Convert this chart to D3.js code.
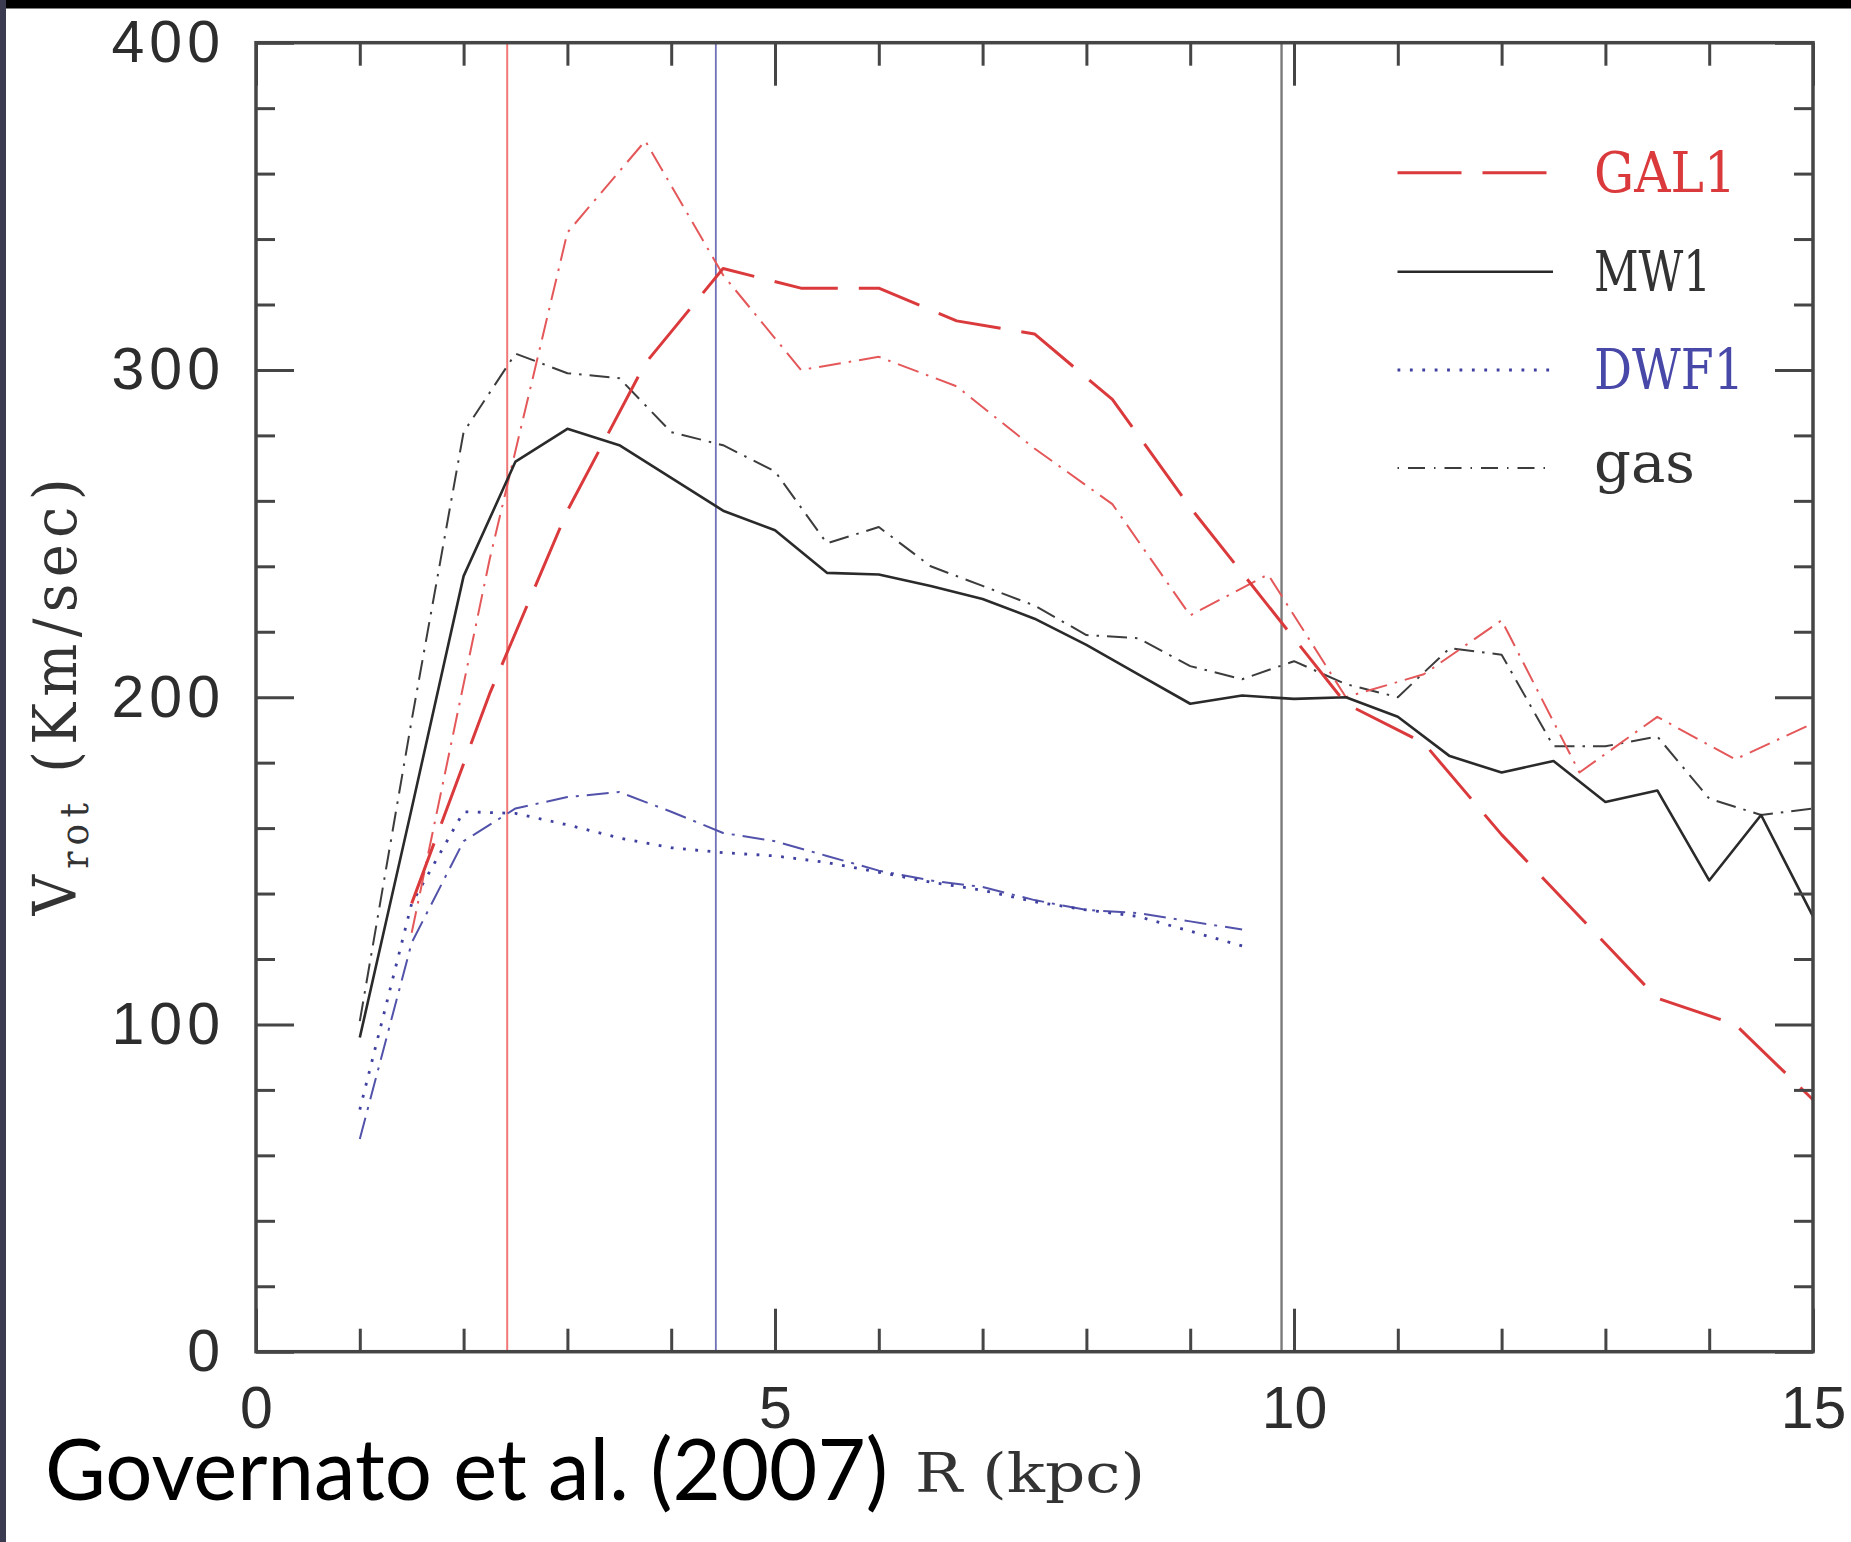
<!DOCTYPE html>
<html>
<head>
<meta charset="utf-8">
<script src="https://cdn.jsdelivr.net/npm/d3@7"></script>
<style>
  html, body { margin: 0; padding: 0; background: #ffffff; }
  svg { display: block; }
</style>
</head>
<body>
<svg id="chart" width="1851" height="1542"></svg>
<script>
// ---- data: rotation curves, V_rot (km/s) against R (kpc) ----
const radiiHalf = [1, 1.5, 2, 2.5, 3, 3.5, 4, 4.5, 5, 5.5, 6, 6.5, 7, 7.5, 8, 8.5, 9, 9.5,
                   10, 10.5, 11, 11.5, 12, 12.5, 13, 13.5, 14, 14.5, 15];
const radiiGal = [1.5, 2.25, 3, 3.75, 4.5, 5.25, 6, 6.75, 7.5, 8.25, 9, 9.75,
                  10.5, 11.25, 12, 12.75, 13.5, 14.25, 15];
const radiiDwarf = [1, 1.5, 2, 2.5, 3, 3.5, 4, 4.5, 5, 5.5, 6, 6.5, 7, 7.5, 8, 8.5, 9, 9.5];

const vMW1 = [96, 166, 237, 272, 282, 277, 267, 257, 251, 238, 237.5, 234, 230, 224, 216, 207, 198, 200.5,
              199.5, 200, 194, 182, 177, 180.5, 168, 171.5, 144, 164, 133];
const vMW1gas = [101, 193, 281, 305, 299, 297.5, 281, 277, 269, 247, 252, 240, 234, 228, 219, 218, 209.5, 205.5,
                 211, 204, 200, 215, 213, 185, 185, 188, 169, 164, 166];
const vGAL1 = [137, 201, 257, 302, 331, 325, 325, 315, 311, 291, 258, 228,
               198, 186, 158, 133, 108, 100, 77];
const vGAL1gas = [128, 242, 342, 370, 329, 300, 304, 295, 276, 259, 225, 237.5,
                  200, 207, 223.5, 177, 194, 181, 192];
const vDWF1 = [74, 137, 165, 164.5, 161, 157, 154, 152.5, 151.5, 149.5, 146.5, 143.5, 141, 137.5, 135, 133, 128.5, 124];
const vDWF1gas = [65, 125, 156, 166, 169.5, 171, 165, 158.5, 156, 151.5, 147, 144, 142, 138, 135, 134, 131.5, 129];

// radii of the three vertical reference lines
const markerRadii = [2.42, 4.43, 9.88];

const xTickValues = [0, 5, 10, 15];
const xMinorValues = [1, 2, 3, 4, 6, 7, 8, 9, 11, 12, 13, 14];
const yTickValues = [0, 100, 200, 300, 400];
const yMinorValues = [20, 40, 60, 80, 120, 140, 160, 180, 220, 240, 260, 280, 320, 340, 360, 380];

const legendLabels = ["GAL1", "MW1", "DWF1", "gas"];

// ---- layout ----
const svg = d3.select("#chart");
const W = 1851, H = 1542;
const plot = { left: 256, right: 1813, top: 42.7, bottom: 1351.7 };

const x = d3.scaleLinear().domain([0, 15]).range([plot.left, plot.right]);
const y = d3.scaleLinear().domain([0, 400]).range([plot.bottom, plot.top]);

const RED = "#db3a3c", RED_LIGHT = "#e4585a", RED_RULE = "#f27878";
const BLUE = "#3f3fa0", BLUE_RULE = "#7070b8";
const INK = "#2a2a2a", GAS_INK = "#3c3c3c", RULE_GRAY = "#7b7b7b";
const AXIS = "#454545";

// background and framing strips
svg.append("rect").attr("width", W).attr("height", H).attr("fill", "#ffffff");
svg.append("rect").attr("x", 0).attr("y", 0).attr("width", W).attr("height", 8.5).attr("fill", "#000000");
svg.append("rect").attr("x", 0).attr("y", 0).attr("width", 6).attr("height", H).attr("fill", "#3a3a50");

// ---- vertical reference lines ----
const ruleColors = [RED_RULE, BLUE_RULE, RULE_GRAY];
const ruleWidths = [2, 1.8, 2.4];
svg.append("g").selectAll("line").data(markerRadii).join("line")
  .attr("x1", d => x(d)).attr("x2", d => x(d))
  .attr("y1", plot.top).attr("y2", plot.bottom)
  .attr("stroke", (d, i) => ruleColors[i])
  .attr("stroke-width", (d, i) => ruleWidths[i]);

// ---- curves ----
const line = d3.line().x(d => x(d[0])).y(d => y(d[1]));
const zip = (rs, vs) => rs.map((r, i) => [r, vs[i]]);

const curves = [
  { pts: zip(radiiDwarf, vDWF1gas), stroke: "#5252aa", width: 2, dash: "22,8,3,8" },
  { pts: zip(radiiDwarf, vDWF1), stroke: BLUE, width: 2.8, dash: "2.8,9.5" },
  { pts: zip(radiiHalf, vMW1gas), stroke: GAS_INK, width: 2, dash: "20,8,2.5,8" },
  { pts: zip(radiiGal, vGAL1gas), stroke: RED_LIGHT, width: 2, dash: "22,8,2.5,8" },
  { pts: zip(radiiHalf, vMW1), stroke: INK, width: 2.6, dash: null },
  { pts: zip(radiiGal, vGAL1), stroke: RED, width: 3, dash: "64,21" }
];
svg.append("g").selectAll("path").data(curves).join("path")
  .attr("d", d => line(d.pts))
  .attr("fill", "none")
  .attr("stroke", d => d.stroke)
  .attr("stroke-width", d => d.width)
  .attr("stroke-dasharray", d => d.dash)
  .attr("stroke-linejoin", "round");

// ---- axes: ticks on all four sides, pointing inward ----
const tickFont = "'Liberation Sans', Arial, sans-serif";
function styleAxis(g) {
  g.select(".domain").remove();
  g.selectAll(".tick line").attr("stroke", AXIS).attr("stroke-width", 3);
  g.selectAll(".tick text").attr("fill", "#2d2d2d").style("font-family", tickFont).style("font-size", "59px");
}
// bottom
svg.append("g").attr("transform", `translate(0,${plot.bottom})`)
  .call(d3.axisBottom(x).tickValues(xTickValues).tickSize(-43).tickSizeOuter(0).tickPadding(34).tickFormat(d3.format("d")))
  .call(styleAxis);
svg.append("g").attr("transform", `translate(0,${plot.bottom})`)
  .call(d3.axisBottom(x).tickValues(xMinorValues).tickSize(-23).tickSizeOuter(0).tickFormat(""))
  .call(styleAxis);
// top
svg.append("g").attr("transform", `translate(0,${plot.top})`)
  .call(d3.axisTop(x).tickValues(xTickValues).tickSize(-43).tickSizeOuter(0).tickFormat(""))
  .call(styleAxis);
svg.append("g").attr("transform", `translate(0,${plot.top})`)
  .call(d3.axisTop(x).tickValues(xMinorValues).tickSize(-23).tickSizeOuter(0).tickFormat(""))
  .call(styleAxis);
// left (labels set a little wider apart)
svg.append("g").attr("transform", `translate(${plot.left},0)`)
  .call(d3.axisLeft(y).tickValues(yTickValues).tickSize(-38).tickSizeOuter(0).tickPadding(31).tickFormat(d3.format("d")))
  .call(styleAxis)
  .call(g => g.selectAll(".tick text").style("letter-spacing", "5px"));
svg.append("g").attr("transform", `translate(${plot.left},0)`)
  .call(d3.axisLeft(y).tickValues(yMinorValues).tickSize(-19).tickSizeOuter(0).tickFormat(""))
  .call(styleAxis);
// right
svg.append("g").attr("transform", `translate(${plot.right},0)`)
  .call(d3.axisRight(y).tickValues(yTickValues).tickSize(-38).tickSizeOuter(0).tickFormat(""))
  .call(styleAxis);
svg.append("g").attr("transform", `translate(${plot.right},0)`)
  .call(d3.axisRight(y).tickValues(yMinorValues).tickSize(-19).tickSizeOuter(0).tickFormat(""))
  .call(styleAxis);

// frame
svg.append("rect")
  .attr("x", plot.left).attr("y", plot.top)
  .attr("width", plot.right - plot.left).attr("height", plot.bottom - plot.top)
  .attr("fill", "none").attr("stroke", AXIS).attr("stroke-width", 3.5);

// ---- legend ----
const serif = "'DejaVu Serif', 'Liberation Serif', serif";
const legendRows = [
  { stroke: RED, width: 3, dash: "64,21", color: RED, len: 142 },
  { stroke: INK, width: 2.6, dash: null, color: "#333333", len: 117 },
  { stroke: BLUE, width: 2.8, dash: "2.8,9.6", color: "#4848a8", len: 150 },
  { stroke: GAS_INK, width: 2, dash: "1.5,9,17,9", color: "#333333", len: 101 }
];
const legendY = [172.7, 271.7, 370, 468];
const legend = svg.append("g");
legendRows.forEach((row, i) => {
  legend.append("line")
    .attr("x1", 1397.5).attr("x2", i === 0 ? 1548 : 1553)
    .attr("y1", legendY[i]).attr("y2", legendY[i])
    .attr("stroke", row.stroke).attr("stroke-width", row.width)
    .attr("stroke-dasharray", row.dash);
  legend.append("text")
    .attr("x", 1594).attr("y", legendY[i] + (i === 3 ? 14 : 19))
    .attr("fill", row.color)
    .style("font-family", serif).style("font-size", "56px")
    .attr("textLength", row.len).attr("lengthAdjust", "spacingAndGlyphs")
    .text(legendLabels[i]);
});

// ---- axis titles ----
svg.append("text")
  .attr("x", 915).attr("y", 1492)
  .attr("fill", "#333333")
  .style("font-family", serif).style("font-size", "54px")
  .attr("textLength", 230).attr("lengthAdjust", "spacingAndGlyphs")
  .text("R (kpc)");

const yTitle = svg.append("text")
  .attr("transform", "translate(76,697) scale(1.08,1) rotate(-90)")
  .attr("text-anchor", "middle")
  .attr("fill", "#333333")
  .style("font-family", serif).style("font-size", "56px")
  .attr("textLength", 437).attr("lengthAdjust", "spacing");
yTitle.append("tspan").text("V");
yTitle.append("tspan").attr("dy", 11).style("font-size", "36px").text("rot");
yTitle.append("tspan").attr("dy", -11).text(" (Km/sec)");

// ---- citation ----
svg.append("text")
  .attr("x", 45).attr("y", 1500)
  .attr("fill", "#000000")
  .style("font-family", "Lato, 'Open Sans', sans-serif").style("font-size", "86px")
  .attr("textLength", 843).attr("lengthAdjust", "spacingAndGlyphs")
  .text("Governato et al. (2007)");
</script>
</body>
</html>
